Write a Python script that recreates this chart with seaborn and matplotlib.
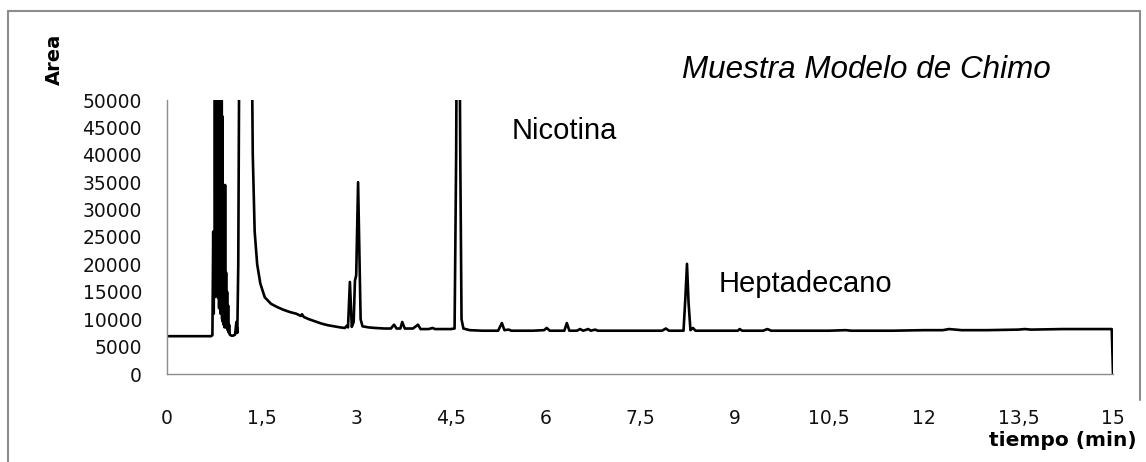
import numpy as np
import pandas as pd
import matplotlib
matplotlib.use("Agg")
import matplotlib.pyplot as plt
from matplotlib.lines import Line2D
import seaborn as sns

# ---- data ----
tiempo = [
    0.0, 0.40, 0.70, 0.72, 0.733, 0.741, 0.748, 0.754, 0.760, 0.766,
    0.772, 0.778, 0.784, 0.790, 0.796, 0.802, 0.808, 0.814, 0.820, 0.826,
    0.832, 0.838, 0.844, 0.850, 0.856, 0.862, 0.868, 0.874, 0.880, 0.886,
    0.892, 0.898, 0.905, 0.913, 0.921, 0.929, 0.937, 0.945, 0.953, 0.961,
    0.969, 0.977, 0.985, 0.995, 1.02, 1.05, 1.08, 1.10, 1.115, 1.13,
    1.15, 1.25, 1.33, 1.36, 1.39, 1.43, 1.48, 1.55, 1.65, 1.75,
    1.85, 1.95, 2.05, 2.12, 2.14, 2.17, 2.25, 2.35, 2.45, 2.55,
    2.65, 2.75, 2.82, 2.85, 2.87, 2.90, 2.93, 2.96, 2.98, 3.00,
    3.03, 3.07, 3.10, 3.20, 3.30, 3.45, 3.55, 3.60, 3.64, 3.70,
    3.73, 3.77, 3.90, 3.98, 4.02, 4.15, 4.21, 4.25, 4.50, 4.56,
    4.585, 4.60, 4.63, 4.65, 4.67, 4.70, 4.80, 5.00, 5.25, 5.31,
    5.35, 5.42, 5.46, 5.80, 5.98, 6.02, 6.07, 6.15, 6.30, 6.34,
    6.38, 6.50, 6.55, 6.60, 6.68, 6.72, 6.79, 6.83, 7.00, 7.50,
    7.85, 7.91, 7.96, 8.15, 8.19, 8.22, 8.245, 8.27, 8.30, 8.34,
    8.38, 8.60, 9.05, 9.08, 9.12, 9.45, 9.52, 9.58, 10.00, 10.50,
    10.76, 10.85, 11.50, 12.00, 12.30, 12.40, 12.60, 13.00, 13.50, 13.60,
    13.70, 14.20, 14.50, 14.80, 14.98, 15.0,
]
area = [
    6900, 6900, 6900, 7100, 26000, 11000, 24000, 14000, 60000, 19000,
    72000, 15000, 58000, 21000, 80000, 14000, 66000, 18000, 74000, 12000,
    61000, 16000, 70000, 11000, 55000, 13000, 52000, 10000, 47000, 9500,
    30000, 9000, 12000, 8500, 34500, 9000, 18500, 8400, 15000, 8000,
    12500, 7600, 9000, 7200, 7000, 7000, 7200, 9500, 7500, 20000,
    70000, 200000, 80000, 40000, 26000, 20000, 16500, 14000, 12800, 12200,
    11700, 11300, 11000, 10600, 10900, 10400, 10000, 9600, 9200, 8900,
    8700, 8500, 8400, 8800, 8500, 16800, 8600, 9500, 17000, 18000,
    35000, 10000, 8700, 8500, 8400, 8300, 8300, 9000, 8300, 8300,
    9500, 8300, 8300, 9000, 8200, 8200, 8400, 8200, 8200, 8300,
    40000, 80000, 80000, 40000, 10000, 8300, 8000, 7900, 7900, 9300,
    8000, 8100, 7900, 7900, 8000, 8400, 7900, 7900, 7900, 9300,
    7900, 7900, 8200, 7900, 8200, 7900, 8100, 7900, 7900, 7900,
    7900, 8300, 7900, 7900, 7900, 14000, 20100, 13000, 8000, 8400,
    7900, 7900, 7900, 8200, 7900, 7900, 8200, 7900, 7900, 7900,
    8000, 7900, 7900, 8000, 8000, 8200, 8000, 8000, 8100, 8200,
    8100, 8200, 8200, 8200, 8200, 0,
]
y_ticks = [0, 5000, 10000, 15000, 20000, 25000, 30000, 35000, 40000, 45000, 50000]
x_ticks = [0, 1.5, 3, 4.5, 6, 7.5, 9, 10.5, 12, 13.5, 15]
x_tick_labels = ["0", "1,5", "3", "4,5", "6", "7,5", "9", "10,5", "12", "13,5", "15"]

titulo = "Muestra Modelo de Chimo"
etiquetas = ["Nicotina", "Heptadecano"]
etiqueta_t = [5.466, 8.74]
etiqueta_v = [42800, 15000]

df = pd.DataFrame({"tiempo": tiempo, "area": area})

sns.set_style("white")
plt.rcParams["font.family"] = ["DejaVu Sans"]

W, H = 1146, 462
fig = plt.figure(figsize=(W / 100, H / 100), dpi=100)
ax = fig.add_axes([167 / W, 1 - 374 / H, (1113 - 167) / W, (374 - 100) / H])

sns.lineplot(data=df, x="tiempo", y="area", ax=ax, color="black",
             linewidth=1.9, estimator=None, sort=False)

ax.set_xlim(0, 15)
ax.set_ylim(0, 50000)
ax.set_xticks(x_ticks)
ax.set_xticklabels(x_tick_labels)
ax.set_yticks(y_ticks)
ax.set_yticklabels([str(v) for v in y_ticks])
ax.tick_params(axis="both", length=0, labelsize=13.5, colors="#111111")
ax.tick_params(axis="y", pad=18)
ax.tick_params(axis="x", pad=25)
ax.set_xlabel("")
ax.set_ylabel("")
for s in ["top", "right"]:
    ax.spines[s].set_visible(False)
for s in ["left", "bottom"]:
    ax.spines[s].set_color("#8c8c8c")
    ax.spines[s].set_linewidth(1.0)

for lab, t, v in zip(etiquetas, etiqueta_t, etiqueta_v):
    ax.text(t, v, lab, fontsize=21, family=["Liberation Sans"],
            ha="left", va="baseline", color="black", clip_on=False)

fig.text(682 / W, 1 - 78 / H, titulo, fontsize=22.6, style="italic",
         family=["Liberation Sans"], ha="left", va="baseline", color="black")
fig.text(54 / W, 1 - 59 / H, "Area", rotation=90, fontsize=14,
         fontweight="bold", ha="center", va="center", color="black")
fig.text(1137 / W, 1 - 440 / H, "tiempo (min)", fontsize=14.5,
         fontweight="bold", ha="right", va="center", color="black")

# outer frame
bc = "#8c8c8c"
fig.add_artist(Line2D([7.5 / W, 7.5 / W], [0, 1 - 11 / H], transform=fig.transFigure, color=bc, lw=1.5))
fig.add_artist(Line2D([7.5 / W, 1140 / W], [1 - 11 / H, 1 - 11 / H], transform=fig.transFigure, color=bc, lw=1.5))
fig.add_artist(Line2D([1140 / W, 1140 / W], [1 - 11 / H, 1 - 400 / H], transform=fig.transFigure, color=bc, lw=1.5))

fig.savefig("out.png", dpi=100, facecolor="white")
